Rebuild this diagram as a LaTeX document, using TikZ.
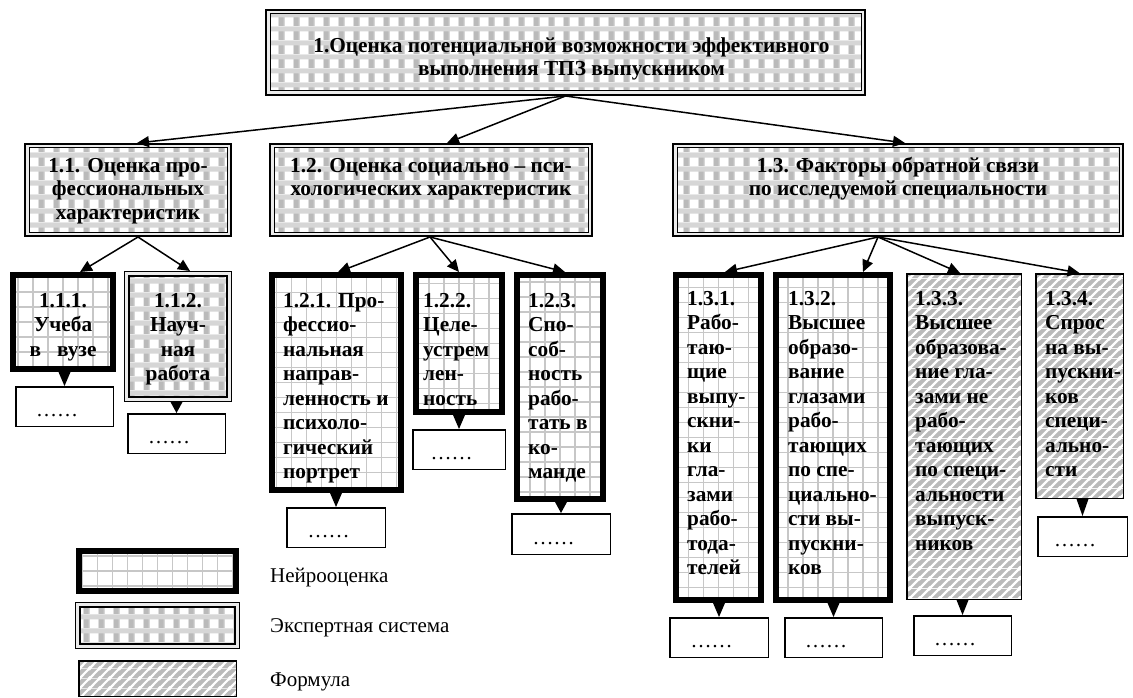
\documentclass[tikz,border=0pt]{standalone}
\usepackage{fontspec}
\setmainfont{Liberation Serif}
\usetikzlibrary{arrows.meta,calc,patterns}

\pgfdeclarepatterninherentlycolored{expertpat}{\pgfpointorigin}{\pgfqpoint{15pt}{14pt}}{\pgfqpoint{15pt}{14pt}}{%
 \pgfsetfillcolor{black!16}\pgfpathrectangle{\pgfpointorigin}{\pgfqpoint{15pt}{14pt}}\pgfusepath{fill}%
 \pgfsetfillcolor{white}\pgfpathrectangle{\pgfqpoint{0pt}{0pt}}{\pgfqpoint{9pt}{9pt}}\pgfusepath{fill}%
 \pgfsetfillcolor{black!27}\pgfpathrectangle{\pgfqpoint{9.5pt}{0pt}}{\pgfqpoint{5pt}{9pt}}\pgfusepath{fill}%
}
\pgfdeclarepatterninherentlycolored{formpat}{\pgfpointorigin}{\pgfqpoint{10pt}{10pt}}{\pgfqpoint{10pt}{10pt}}{%
 \pgfsetfillcolor{black!27}\pgfpathrectangle{\pgfpointorigin}{\pgfqpoint{10pt}{10pt}}\pgfusepath{fill}%
 \pgfsetstrokecolor{white}\pgfsetlinewidth{2.4pt}%
 \pgfpathmoveto{\pgfqpoint{-1pt}{-1pt}}\pgfpathlineto{\pgfqpoint{11pt}{11pt}}%
 \pgfpathmoveto{\pgfqpoint{-1pt}{9pt}}\pgfpathlineto{\pgfqpoint{1pt}{11pt}}%
 \pgfpathmoveto{\pgfqpoint{9pt}{-1pt}}\pgfpathlineto{\pgfqpoint{11pt}{1pt}}%
 \pgfusepath{stroke}%
}

\newcommand\bx[7]{\node[#2, minimum width={#5-#3-#7}, minimum height={#6-#4-#7}] (#1) at ({(#3+#5)/2},{(#4+#6)/2}) {};}
\newcommand\ptr[2]{\fill ($(#1.south -| #2.north)+(-6pt,0pt)$) -- ($(#1.south -| #2.north)+(6pt,0pt)$) -- (#2.north) -- cycle;}

\begin{document}
\begin{tikzpicture}[x=1pt,y=-1pt,
  neuro/.style={draw=black, line width=6pt, fill=white, inner sep=0pt,
    path picture={\draw[black!22, line width=1.6pt] (path picture bounding box.south west) grid[step=15pt] (path picture bounding box.north east);}},
  expertA/.style={draw=black, line width=2pt, fill=black!8, inner sep=0pt,
    path picture={
      \fill[pattern=expertpat] ($(path picture bounding box.south west)+(4pt,4pt)$) rectangle ($(path picture bounding box.north east)+(-4pt,-4pt)$);
      \draw[line width=1pt] ($(path picture bounding box.south west)+(4pt,4pt)$) rectangle ($(path picture bounding box.north east)+(-4pt,-4pt)$);}},
  expertB/.style={draw=black, line width=1.2pt, fill=black!8, inner sep=0pt,
    path picture={
      \fill[pattern=expertpat] ($(path picture bounding box.south west)+(4.5pt,4.5pt)$) rectangle ($(path picture bounding box.north east)+(-4.5pt,-4.5pt)$);
      \draw[line width=2.2pt] ($(path picture bounding box.south west)+(4.5pt,4.5pt)$) rectangle ($(path picture bounding box.north east)+(-4.5pt,-4.5pt)$);}},
  formula/.style={draw=black, line width=1.5pt, pattern=formpat, inner sep=0pt},
  smallbox/.style={draw=black, line width=1.5pt, fill=white, inner sep=0pt},
  arr/.style={line width=1.5pt, -{Triangle[length=12pt,width=11pt]}},
  bt/.style={font=\bfseries\fontsize{21.3}{24.5}\selectfont, inner sep=0pt, align=left},
  btc/.style={bt, align=center},
  bth/.style={font=\bfseries\fontsize{21.3}{23.5}\selectfont, inner sep=0pt, align=center},
  lg/.style={font=\fontsize{21}{24}\selectfont, inner sep=0pt},
]
\useasboundingbox (0,0) rectangle (1133,698);
\fill[white] (0,0) rectangle (1133,698);

% boxes
\bx{top}{expertA}{265}{9}{866}{96}{2}
\bx{b11}{expertA}{24}{143}{232}{237}{2}
\bx{b12}{expertA}{269}{143}{593}{237}{2}
\bx{b13}{expertA}{672}{143}{1124}{237}{2}
\bx{b111}{neuro}{10}{272}{116}{372}{6}
\bx{b112}{expertB}{124}{271}{232}{402}{1.2}
\bx{b121}{neuro}{269}{272}{404}{493}{6}
\bx{b122}{neuro}{413}{272}{505}{415}{6}
\bx{b123}{neuro}{514}{272}{606}{502}{6}
\bx{b131}{neuro}{673}{272}{764}{603}{6}
\bx{b132}{neuro}{773}{272}{893}{603}{6}
\bx{b133}{formula}{906}{273}{1022}{600}{1.5}
\bx{b134}{formula}{1035}{273}{1124}{499}{1.5}
% small boxes
\bx{s111}{smallbox}{15}{386}{114}{427}{1.5}
\bx{s112}{smallbox}{127}{413}{226}{454}{1.5}
\bx{s121}{smallbox}{286}{507}{386}{548}{1.5}
\bx{s122}{smallbox}{412}{429}{506}{470}{1.5}
\bx{s123}{smallbox}{511}{513}{611}{555}{1.5}
\bx{s131}{smallbox}{669}{617}{769}{658}{1.5}
\bx{s132}{smallbox}{784}{617}{883}{658}{1.5}
\bx{s133}{smallbox}{913}{615}{1012}{656}{1.5}
\bx{s134}{smallbox}{1037}{516}{1128}{557}{1.5}
% legend
\bx{ln}{neuro}{76}{548}{239}{594}{6}
\bx{le}{expertB}{75}{602}{240}{649}{1.2}
\bx{lf}{formula}{78}{660}{237}{697}{1.5}

% texts
\node[bth, anchor=north] at ([xshift=6pt,yshift=-26.5pt]top.north) {\strut 1.Оценка потенциальной возможности эффективного\\выполнения ТПЗ выпускником};
\node[bth, anchor=north] at ([yshift=-12.5pt]b11.north) {\strut 1.1. Оценка про-\\фессиональных\\характеристик};
\node[bth, anchor=north] at ([yshift=-12.5pt]b12.north) {\strut 1.2. Оценка социально – пси-\\хологических характеристик};
\node[bth, anchor=north] at ([yshift=-12.5pt]b13.north) {\strut 1.3. Факторы обратной связи\\по исследуемой специальности};

\node[btc, anchor=north] at ([yshift=-17.9pt]b111.north) {\strut 1.1.1.\\Учеба\\в\hspace{16pt}вузе};
\node[btc, anchor=north] at ([yshift=-18.9pt]b112.north) {\strut 1.1.2.\\Науч-\\ная\\работа};
\node[bt, anchor=north west] at ([xshift=14pt,yshift=-17.9pt]b121.north west) {\strut 1.2.1. Про-\\фессио-\\нальная\\направ-\\ленность и\\психоло-\\гический\\портрет};
\node[bt, anchor=north west] at ([xshift=10pt,yshift=-17.9pt]b122.north west) {\strut 1.2.2.\\Целе-\\устрем\\лен-\\ность};
\node[bt, anchor=north west] at ([xshift=14pt,yshift=-17.9pt]b123.north west) {\strut 1.2.3.\\Спо-\\соб-\\ность\\рабо-\\тать в\\ко-\\манде};
\node[bt, anchor=north west] at ([xshift=14pt,yshift=-15.9pt]b131.north west) {\strut 1.3.1.\\Рабо-\\таю-\\щие\\выпу-\\скни-\\ки\\гла-\\зами\\рабо-\\тода-\\телей};
\node[bt, anchor=north west] at ([xshift=15pt,yshift=-15.9pt]b132.north west) {\strut 1.3.2.\\Высшее\\образо-\\вание\\глазами\\рабо-\\тающих\\по спе-\\циально-\\сти вы-\\пускни-\\ков};
\node[bt, anchor=north west] at ([xshift=9pt,yshift=-14.9pt]b133.north west) {\strut 1.3.3.\\Высшее\\образова-\\ние гла-\\зами не\\рабо-\\тающих\\по специ-\\альности\\выпуск-\\ников};
\node[bt, anchor=north west] at ([xshift=10pt,yshift=-14.9pt]b134.north west) {\strut 1.3.4.\\Спрос\\на вы-\\пускни-\\ков\\специ-\\ально-\\сти};

% dots
\foreach \s in {s111,s112,s121,s122,s123,s131,s132,s133,s134}
  \node[lg, anchor=base] at ([xshift=-7.5pt,yshift=11pt]\s.south) {……};

% legend texts
\node[lg, anchor=west] (tn) at (270,578) {Нейрооценка};
\node[lg, anchor=west] (te) at (270,628) {Экспертная система};
\node[lg, anchor=west] (tf) at (270,682) {Формула};

% arrows
\draw[arr] (top.south) -- ([xshift=9pt]b11.north);
\draw[arr] (top.south) -- ([xshift=16pt]b12.north);
\draw[arr] (top.south) -- ([xshift=7pt]b13.north);
\draw[arr] ([xshift=10pt]b11.south) -- ([xshift=17pt]b111.north);
\draw[arr] ([xshift=10pt]b11.south) -- ([xshift=12pt]b112.north);
\draw[arr] ([xshift=-1pt]b12.south) -- ([xshift=1.5pt]b121.north);
\draw[arr] ([xshift=-1pt]b12.south) -- (b122.north);
\draw[arr] ([xshift=-1pt]b12.south) -- ([xshift=5pt]b123.north);
\draw[arr] ([xshift=-20pt]b13.south) -- ([xshift=6.5pt]b131.north);
\draw[arr] ([xshift=-20pt]b13.south) -- ([xshift=30pt]b132.north);
\draw[arr] ([xshift=-20pt]b13.south) -- ([xshift=-4pt]b133.north);
\draw[arr] ([xshift=-20pt]b13.south) -- (b134.north);

% pointers
\ptr{b111}{s111}
\ptr{b112}{s112}
\ptr{b121}{s121}
\ptr{b122}{s122}
\ptr{b123}{s123}
\ptr{b131}{s131}
\ptr{b132}{s132}
\ptr{b133}{s133}
\ptr{b134}{s134}
\end{tikzpicture}
\end{document}
